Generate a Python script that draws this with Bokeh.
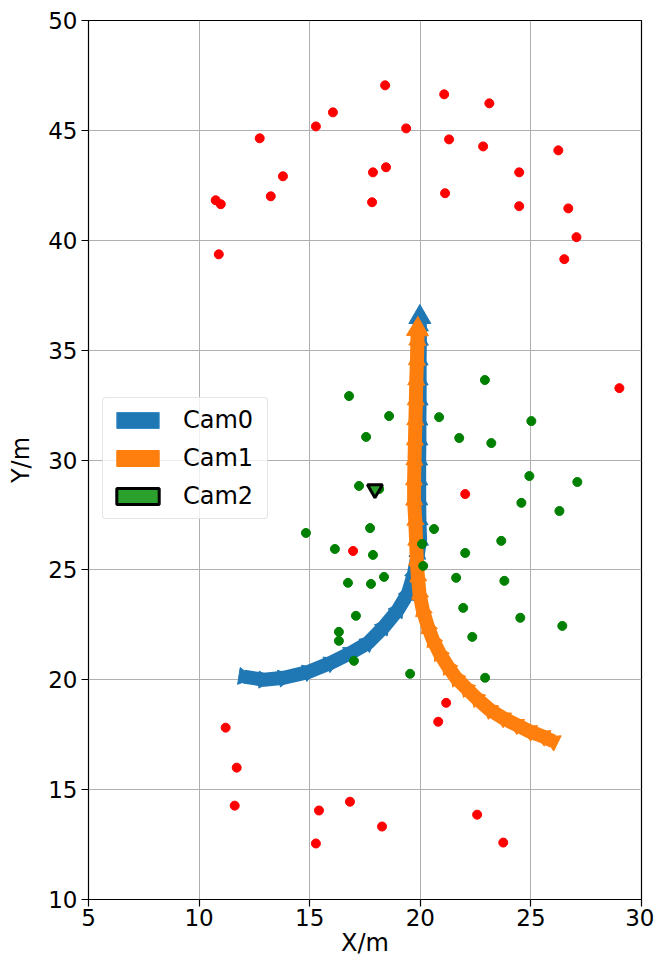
import numpy as np
from bokeh.plotting import figure
from bokeh.models import Range1d, SingleIntervalTicker, Legend, LegendItem, ColumnDataSource
from bokeh.embed import file_html
from bokeh.resources import INLINE

# Landmark points (m)
red_x = [18.41, 21.08, 23.12, 16.05, 15.28, 19.36, 12.74, 21.30, 22.84, 26.24,
         18.45, 13.79, 17.86, 24.47, 13.24, 10.75, 10.98, 17.82, 21.12, 24.47,
         26.69, 27.06, 26.51, 10.89, 29.00, 22.03, 16.96, 11.20, 11.70, 11.61,
         15.42, 16.82, 18.27, 15.28, 22.57, 23.75, 21.17, 20.81]
red_y = [47.05, 46.64, 46.23, 45.82, 45.18, 45.09, 44.64, 44.59, 44.27, 44.09,
         43.32, 42.91, 43.09, 43.09, 42.00, 41.82, 41.64, 41.73, 42.14, 41.55,
         41.45, 40.14, 39.14, 39.36, 33.27, 28.45, 25.86, 17.82, 16.00, 14.27,
         14.05, 14.45, 13.32, 12.55, 13.86, 12.59, 18.95, 18.09]

green_x = [16.78, 18.59, 20.85, 17.55, 21.76, 23.21, 25.02, 22.92, 24.93, 27.10,
           24.57, 17.23, 18.14, 20.62, 17.73, 26.29, 14.83, 23.66, 16.14, 17.86,
           20.08, 20.13, 22.03, 16.73, 17.77, 18.36, 21.62, 23.80, 21.94, 17.09,
           16.32, 16.32, 17.00, 22.35, 24.52, 26.42, 19.54, 22.93]
green_y = [32.91, 32.00, 31.95, 31.05, 31.00, 30.77, 31.77, 33.64, 29.27, 29.00,
           28.05, 28.82, 28.68, 26.86, 26.90, 27.68, 26.68, 26.32, 25.95, 25.68,
           26.18, 25.18, 25.77, 24.41, 24.36, 24.68, 24.64, 24.50, 23.27, 22.91,
           22.18, 21.77, 20.86, 21.95, 22.82, 22.45, 20.27, 20.09]

# Camera trajectories (m)
cam0_x = [12.02, 12.93, 13.83, 14.96, 15.96, 16.87, 17.64, 18.36, 18.99, 19.45,
          19.72, 19.90, 19.99, 19.96, 19.95, 19.95, 19.95, 19.96, 19.96, 19.97,
          19.97, 19.97, 19.98, 19.98, 19.98]
cam0_y = [20.14, 20.00, 20.09, 20.36, 20.77, 21.23, 21.68, 22.41, 23.18, 23.95,
          24.86, 25.77, 26.36, 27.27, 28.18, 29.09, 30.00, 30.91, 31.82, 32.73,
          33.64, 34.55, 35.45, 36.10, 36.50]

cam1_x = [26.00, 25.55, 24.94, 24.34, 23.74, 23.13, 22.53, 22.07, 21.62, 21.25,
          20.87, 20.57, 20.34, 20.11, 19.96, 19.89, 19.84, 19.81, 19.77, 19.72,
          19.72, 19.74, 19.76, 19.78, 19.80, 19.82, 19.85, 19.87, 19.88]
cam1_y = [17.20, 17.42, 17.65, 17.95, 18.26, 18.64, 19.17, 19.62, 20.08, 20.60,
          21.21, 21.82, 22.42, 23.18, 23.94, 24.70, 25.45, 26.36, 27.27, 28.18,
          29.09, 30.00, 30.91, 31.82, 32.73, 33.64, 34.55, 35.45, 35.95]

cam2_x = [17.95]
cam2_y = [28.68]

tick_interval = 5

FONT = "DejaVu Sans"

p = figure(width=654, height=963, output_backend="svg", toolbar_location=None,
           x_range=Range1d(5, 30), y_range=Range1d(10, 50),
           min_border_left=88, min_border_right=13, min_border_top=20,
           min_border_bottom=64)

p.outline_line_color = "black"
p.outline_line_width = 1.2
p.outline_line_alpha = 1.0

for ax in (p.xaxis[0], p.yaxis[0]):
    ax.ticker = SingleIntervalTicker(interval=tick_interval)
    ax.axis_line_color = None
    ax.major_tick_in = 0
    ax.major_tick_out = 7
    ax.major_tick_line_color = "black"
    ax.major_tick_line_width = 1.2
    ax.minor_tick_line_color = None
    ax.major_label_text_font = FONT
    ax.major_label_text_font_size = "23px"
    ax.major_label_text_color = "black"
    ax.axis_label_text_font = FONT
    ax.axis_label_text_font_size = "24px"
    ax.axis_label_text_font_style = "normal"
    ax.axis_label_text_color = "black"

p.xaxis.axis_label = "X/m"
p.yaxis.axis_label = "Y/m"
p.xaxis.major_label_standoff = 2
p.yaxis.major_label_standoff = 4
p.xaxis.axis_label_standoff = 0
p.yaxis.axis_label_standoff = 10

p.grid.grid_line_color = "#b0b0b0"
p.grid.grid_line_width = 1


def headings(xs, ys):
    xs = np.asarray(xs)
    ys = np.asarray(ys)
    dx = np.gradient(xs)
    dy = np.gradient(ys)
    return np.arctan2(dy, dx) - np.pi / 2


def draw_track(xs, ys, color):
    ang = headings(xs, ys)
    p.line(xs, ys, line_width=14, line_color=color, line_join="round", line_cap="butt")
    src = ColumnDataSource(dict(x=xs, y=ys, a=ang))
    p.scatter("x", "y", source=src, marker="triangle", size=17, angle="a",
              fill_color=color, line_color=color, line_width=1)
    head = ColumnDataSource(dict(x=[xs[-1]], y=[ys[-1]], a=[ang[-1]]))
    p.scatter("x", "y", source=head, marker="triangle", size=22, angle="a",
              fill_color=color, line_color=color)


draw_track(cam0_x, cam0_y, "#1f77b4")
draw_track(cam1_x, cam1_y, "#ff7f0e")

p.scatter(red_x, red_y, size=9, fill_color="#ff0000", line_color="#ff0000")
p.scatter(green_x, green_y, size=9, fill_color="#008000", line_color="#008000")

p.scatter(cam2_x, cam2_y, marker="inverted_triangle", size=15,
          fill_color="#2ca02c", line_color="black", line_width=3)

# Legend swatches
nan = [float("nan")]
r0 = p.quad(left=nan, right=nan, top=nan, bottom=nan, fill_color="#1f77b4", line_color="#3a8ac4", line_width=1)
r1 = p.quad(left=nan, right=nan, top=nan, bottom=nan, fill_color="#ff7f0e", line_color="#ff7f0e", line_width=1)
r2 = p.quad(left=nan, right=nan, top=nan, bottom=nan, fill_color="#2ca02c", line_color="black", line_width=3)

legend = Legend(items=[LegendItem(label="Cam0", renderers=[r0]),
                       LegendItem(label="Cam1", renderers=[r1]),
                       LegendItem(label="Cam2", renderers=[r2])],
                location=(14, 380),
                glyph_width=53, glyph_height=20,
                label_standoff=19, label_width=76,
                label_text_font=FONT, label_text_font_size="24px",
                label_text_color="black",
                padding=8, spacing=10, margin=0,
                border_line_color="#cccccc", border_line_width=1,
                border_radius=4, background_fill_alpha=0.8)
p.add_layout(legend)

open("out.html", "w").write(file_html(p, INLINE))
